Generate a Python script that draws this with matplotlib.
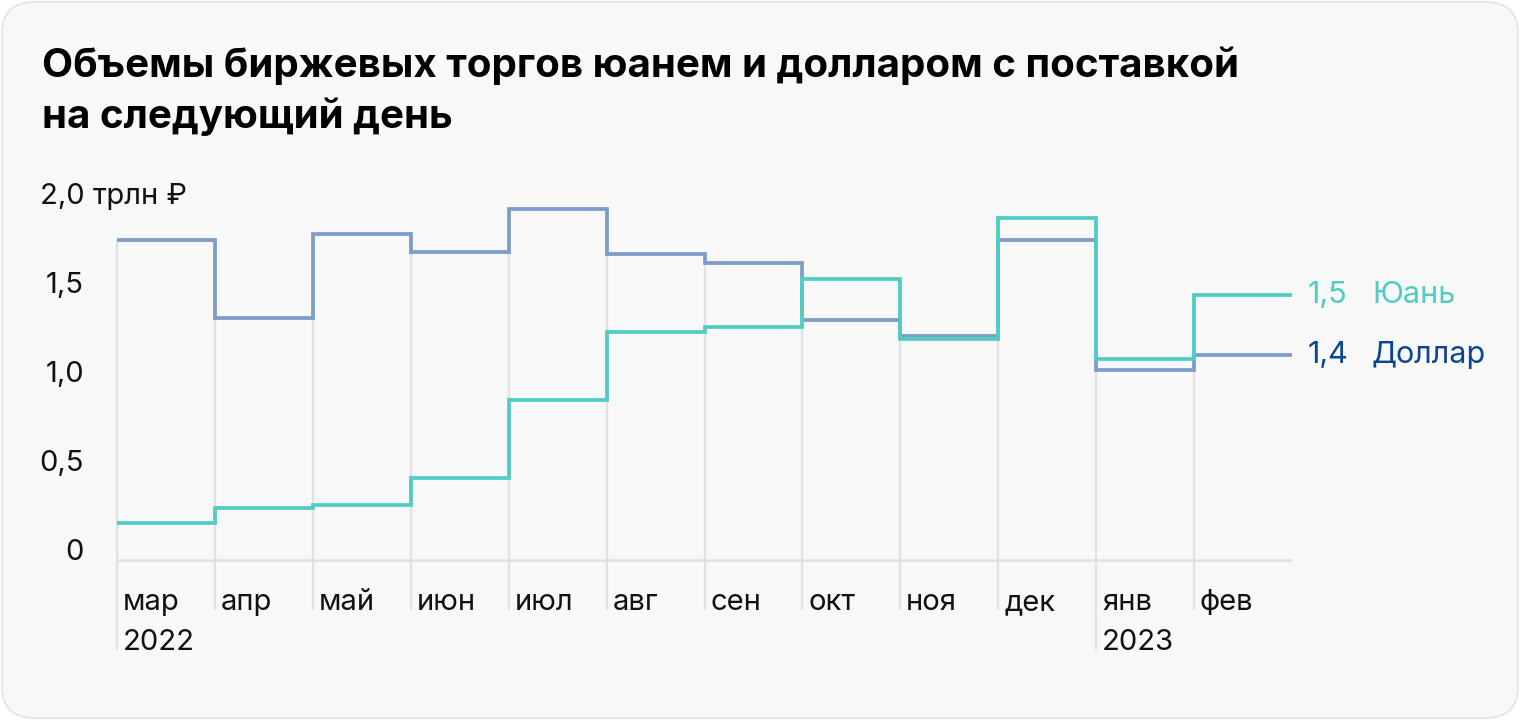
import matplotlib
matplotlib.use('Agg')
import matplotlib.pyplot as plt
from matplotlib.patches import FancyBboxPatch
from matplotlib.transforms import IdentityTransform

plt.rcParams['font.family'] = ['Inter', 'DejaVu Sans']

months = ['мар', 'апр', 'май', 'июн', 'июл', 'авг', 'сен', 'окт', 'ноя', 'дек', 'янв', 'фев']
years = {0: '2022', 10: '2023'}
dollar = [1.80, 1.36, 1.83, 1.73, 1.97, 1.72, 1.67, 1.35, 1.26, 1.80, 1.07, 1.15]
yuan = [0.21, 0.29, 0.31, 0.46, 0.90, 1.28, 1.31, 1.58, 1.24, 1.92, 1.13, 1.49]
yticks = [0, 0.5, 1.0, 1.5]
ytick_labels = ['0', '0,5', '1,0', '1,5']
top_label = '2,0 трлн ₽'
yuan_label = ('1,5', 'Юань')
dollar_label = ('1,4', 'Доллар')

YUAN_C = '#4fcdc4'
DOLLAR_C = '#7b9dc8'
DOLLAR_TXT = '#0d4595'
GRID_C = '#e1e1e1'

W, H = 1520, 720
fig = plt.figure(figsize=(W / 100, H / 100), dpi=100)
fig.patch.set_facecolor('white')
card = FancyBboxPatch((2, 2), W - 4, H - 4, boxstyle='round,pad=0,rounding_size=32',
                      transform=IdentityTransform(), facecolor='#f8f8f8', edgecolor='#e6e6e6',
                      linewidth=1.5, zorder=-10)
fig.patches.append(card)

# axes: x 0..12 -> px 117..1292, y value v -> px 560 - 178 v
x0, x1 = 117, 1292
ppu = 178
ppx = (x1 - x0) / 12
ylo, yhi = -0.8, 2.2
bottom_px = 560 + (-ylo) * ppu
top_px = 560 - yhi * ppu
ax = fig.add_axes([x0 / W, 1 - bottom_px / H, (x1 - x0) / W, (bottom_px - top_px) / H])
ax.set_xlim(0, 12)
ax.set_ylim(ylo, yhi)
ax.axis('off')

n = len(months)
# vertical month separators and baseline
for i in range(n):
    low = -0.506 if i in years else -0.281
    ax.plot([i, i], [low, max(dollar[i], yuan[i])], color=GRID_C, lw=1.6, zorder=1,
            solid_capstyle='butt', clip_on=False)
ax.plot([0, n], [0, 0], color=GRID_C, lw=1.8, zorder=1, solid_capstyle='butt')

edges = list(range(n + 1))
ax.stairs(dollar, edges, baseline=None, color=DOLLAR_C, lw=2.7, zorder=3)
ax.stairs(yuan, edges, baseline=None, color=YUAN_C, lw=2.7, zorder=4)

# month labels
for i, m in enumerate(months):
    ax.text(i + 0.06, -0.281, m, ha='left', va='baseline', fontsize=21, color='#111111',
            clip_on=False)
    if i in years:
        ax.text(i + 0.06, -0.506, years[i], ha='left', va='baseline', fontsize=21,
                color='#111111', clip_on=False)

# y labels
lx = (84 - x0) / ppx
for v, lab in zip(yticks, ytick_labels):
    ax.text(lx, v, lab, ha='right', va='baseline', fontsize=21, color='#111111', clip_on=False)
ax.text((40 - x0) / ppx, 2.0, top_label, ha='left', va='baseline', fontsize=21,
        color='#111111', clip_on=False)

# end labels
xa = (1308 - x0) / ppx
xb = (1372 - x0) / ppx
ax.text(xa, yuan[-1], yuan_label[0], ha='left', va='center', fontsize=22, color=YUAN_C, clip_on=False)
ax.text(xb, yuan[-1], yuan_label[1], ha='left', va='center', fontsize=22, color=YUAN_C, clip_on=False)
ax.text(xa, dollar[-1], dollar_label[0], ha='left', va='center', fontsize=22, color=DOLLAR_TXT, clip_on=False)
ax.text(xb, dollar[-1], dollar_label[1], ha='left', va='center', fontsize=22, color=DOLLAR_TXT, clip_on=False)

# title
fig.text(42 / W, 1 - 77 / H, 'Объемы биржевых торгов юанем и долларом с поставкой',
         ha='left', va='baseline', fontsize=29, fontweight='bold', color='#000000')
fig.text(42 / W, 1 - 128 / H, 'на следующий день',
         ha='left', va='baseline', fontsize=29, fontweight='bold', color='#000000')

fig.savefig('out.png', dpi=100, facecolor='white')
